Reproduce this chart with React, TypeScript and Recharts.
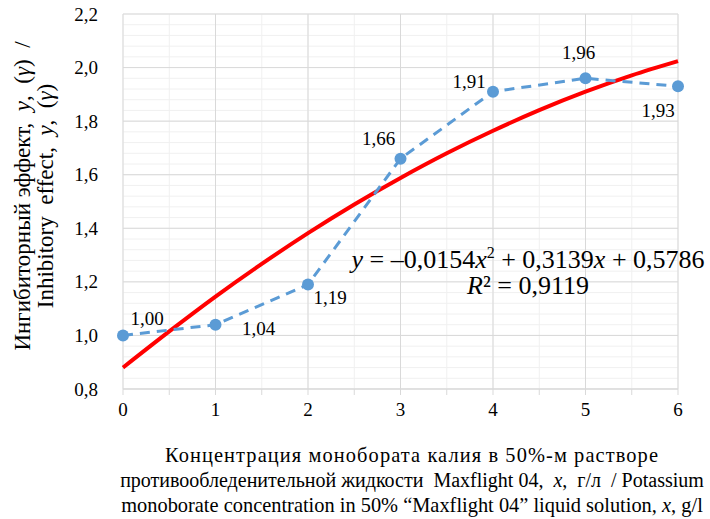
import React from "react";
import {
  ComposedChart,
  Line,
  XAxis,
  YAxis,
  CartesianGrid,
  LabelList,
} from "recharts";

// concentration, g/l
const concentrations = [0, 1, 2, 3, 4, 5, 6];
// measured inhibitory effect
const effects = [1.0, 1.04, 1.19, 1.66, 1.91, 1.96, 1.93];
// polynomial trendline as drawn
const trendX = [0, 0.5, 1, 1.5, 2, 2.5, 3, 3.5, 4, 4.5, 5, 5.5, 6];
const trendY = [0.88, 1.015, 1.145, 1.267, 1.382, 1.489, 1.588, 1.68, 1.764, 1.841, 1.91, 1.971, 2.024];

const yTicks = [0.8, 1.0, 1.2, 1.4, 1.6, 1.8, 2.0, 2.2];
const xTicks = [0, 0.5, 1, 1.5, 2, 2.5, 3, 3.5, 4, 4.5, 5, 5.5, 6];

const yMinor: number[] = [];
for (let i = 0; i <= 35; i++) yMinor.push(0.8 + i * 0.04);

const FONT = "Liberation Serif, DejaVu Serif, serif";
const BLUE = "#5b9bd5";

// label offsets per point [dx, dy] relative to the marker
const labelOffsets: [number, number][] = [
  [24, -17],
  [43, 4],
  [22, 13],
  [-22, -20],
  [-24, -10],
  [-7, -26],
  [-20, 24],
];

const measured = concentrations.map((x, i) => ({ x, y: effects[i] }));
const trend = trendX.map((x, i) => ({ x, t: trendY[i] }));

const fmt = (v: number, d: number) => v.toFixed(d).replace(".", ",");

const PointLabel = (props: any) => {
  const { x, y, value, index } = props;
  const [dx, dy] = labelOffsets[index];
  return (
    <text
      x={x + dx}
      y={y + dy}
      textAnchor="middle"
      dominantBaseline="central"
      style={{ fontFamily: FONT }}
      fontSize={19}
      fill="#000"
    >
      {fmt(value, 2)}
    </text>
  );
};

const XTick = (props: any) => {
  const { x, y, payload } = props;
  if (!Number.isInteger(payload.value)) return null;
  return (
    <text x={x} y={y + 12} textAnchor="middle" dominantBaseline="central" style={{ fontFamily: FONT }} fontSize={19} fill="#000">
      {payload.value}
    </text>
  );
};

const YTick = (props: any) => {
  const { x, y, payload } = props;
  return (
    <text x={x - 17} y={y} textAnchor="end" dominantBaseline="central" style={{ fontFamily: FONT }} fontSize={19} fill="#000">
      {fmt(payload.value, 1)}
    </text>
  );
};

export default function App() {
  return (
    <div style={{ position: "absolute", left: 0, top: 0, width: 710, height: 519, background: "#fff", fontFamily: FONT, overflow: "hidden" }}>
      <ComposedChart width={710} height={519} margin={{ top: 14, right: 32, left: 0, bottom: 100 }}>
        <CartesianGrid
          horizontalValues={yMinor}
          verticalValues={xTicks}
          stroke="#f0f0f0"
          strokeWidth={1}
        />
        <CartesianGrid
          horizontalValues={yTicks}
          verticalValues={concentrations}
          stroke="#d9d9d9"
          strokeWidth={1}
        />
        <XAxis
          dataKey="x"
          type="number"
          domain={[0, 6]}
          ticks={xTicks}
          interval={0}
          height={30}
          allowDuplicatedCategory={false}
          axisLine={{ stroke: "#d9d9d9" }}
          tickLine={{ stroke: "#d9d9d9" }}
          tickSize={6}
          tick={<XTick />}
        />
        <YAxis
          type="number"
          domain={[0.8, 2.2]}
          ticks={yTicks}
          interval={0}
          width={123}
          axisLine={false}
          tickLine={false}
          tick={<YTick />}
        />
        <Line
          data={trend}
          dataKey="t"
          type="monotone"
          stroke="#ff0000"
          strokeWidth={4}
          dot={false}
          isAnimationActive={false}
        />
        <Line
          data={measured}
          dataKey="y"
          type="linear"
          stroke={BLUE}
          strokeWidth={3}
          strokeDasharray="10 7"
          dot={{ r: 6, fill: BLUE, stroke: BLUE, strokeWidth: 0 }}
          isAnimationActive={false}
        >
          <LabelList dataKey="y" content={<PointLabel />} />
        </Line>
      </ComposedChart>

      <div
        style={{
          position: "absolute",
          left: 528,
          top: 273,
          transform: "translate(-50%, -50%)",
          fontSize: 26,
          whiteSpace: "nowrap",
          textAlign: "center",
          lineHeight: "26px",
        }}
      >
        <div>
          <i>y</i> = –0,0154<i>x</i>
          <sup style={{ fontSize: 16, lineHeight: 0 }}>2</sup> + 0,3139<i>x</i> + 0,5786
        </div>
        <div>
          <i>R</i>² = 0,9119
        </div>
      </div>

      <div
        style={{
          position: "absolute",
          left: 34,
          top: 196,
          transform: "translate(-50%, -50%) rotate(-90deg)",
          fontSize: 23,
          whiteSpace: "nowrap",
          textAlign: "center",
          lineHeight: "23px",
        }}
      >
        <div>
          Ингибиторный эффект,&nbsp; <i>y</i>,&nbsp; (<i>γ</i>)&nbsp; /
        </div>
        <div>
          Inhibitory&nbsp; effect,&nbsp; <i>y</i>,&nbsp; (<i>γ</i>)
        </div>
      </div>

      <div
        style={{
          position: "absolute",
          left: 412,
          top: 480,
          transform: "translate(-50%, -50%)",
          fontSize: 20.4,
          whiteSpace: "nowrap",
          textAlign: "center",
          lineHeight: "25px",
        }}
      >
        <div style={{ letterSpacing: 1.1 }}>Концентрация монобората калия в 50%-м растворе</div>
        <div style={{ fontSize: 20 }}>
          противообледенительной жидкости&nbsp; Maxflight 04,&nbsp; <i>x</i>,&nbsp; г/л&nbsp; / Potassium
        </div>
        <div>
          monoborate concentration in 50% “Maxflight 04” liquid solution, <i>x</i>, g/l
        </div>
      </div>
    </div>
  );
}
